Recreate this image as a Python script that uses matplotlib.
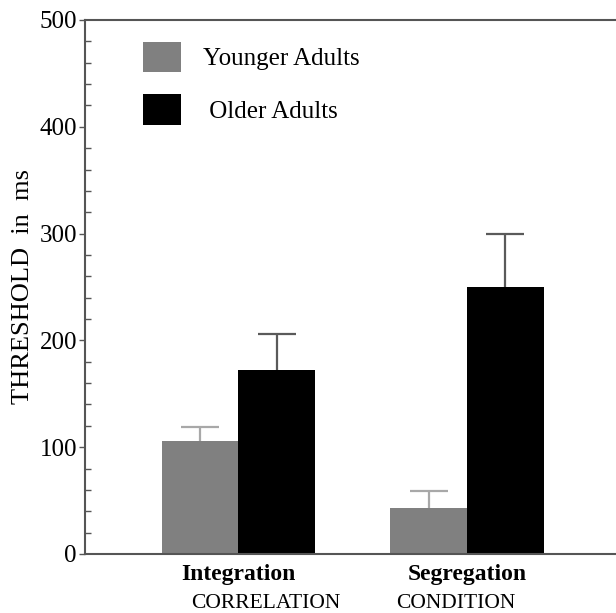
import matplotlib
matplotlib.use("Agg")
import matplotlib.pyplot as plt
import numpy as np
from matplotlib.patches import Patch
from matplotlib.ticker import MultipleLocator

plt.rcParams['font.family'] = ['Liberation Serif', 'DejaVu Serif']

conditions = ["Integration", "Segregation"]
groups = ["Younger Adults", "Older Adults"]
younger = [106, 43]
younger_err = [13, 16]
older = [172, 250]
older_err = [34, 50]
yticks = [0, 100, 200, 300, 400, 500]

fig = plt.figure(figsize=(6.16, 6.13), dpi=100)
ax = fig.add_axes([85.3 / 616, 59 / 613, (616 - 85.3) / 616, 534 / 613])

x = np.arange(len(conditions))
w = 0.335
ax.bar(x - w / 2, younger, width=w, color="#808080", zorder=2)
ax.bar(x + w / 2, older, width=w, color="#000000", zorder=2)
for vals, errs, pos, col in [(younger, younger_err, x - w / 2, "#a8a8a8"),
                             (older, older_err, x + w / 2, "#5a5a5a")]:
    _, caps, _ = ax.errorbar(pos, vals, yerr=[np.zeros(len(vals)), errs],
                             fmt="none", ecolor=col, elinewidth=1.6, capsize=13.7,
                             capthick=1.6, zorder=1)
    caps[0].set_visible(False)

ax.set_xlim(-0.669, 1.652)
ax.set_ylim(0, 500)
ax.set_yticks(yticks)
ax.set_yticklabels([str(t) for t in yticks], fontsize=18)
ax.yaxis.set_minor_locator(MultipleLocator(20))
ax.tick_params(axis="y", which="major", direction="out", length=4, width=1, color="#555555", pad=2)
ax.tick_params(axis="y", which="minor", direction="in", length=4, width=1, color="#555555")
ax.set_xticks(x)
ax.set_xticklabels(conditions, fontsize=17, fontweight="bold")
ax.tick_params(axis="x", length=0, pad=7)

for s in ["left", "top", "bottom"]:
    ax.spines[s].set_color("#555555")
    ax.spines[s].set_linewidth(1.5)
ax.spines["right"].set_visible(False)

ax.set_ylabel("THRESHOLD  in  ms", fontsize=19, labelpad=4)

handles = [Patch(facecolor="#808080", edgecolor="none"), Patch(facecolor="#000000", edgecolor="none")]
ax.legend(handles, ["Younger Adults", " Older Adults"], loc="upper left",
          bbox_to_anchor=(0.108, 0.959), frameon=False, fontsize=18,
          handlelength=1.53, handleheight=1.5, handletextpad=0.88,
          labelspacing=0.88, borderpad=0, borderaxespad=0)

fig.text(265.5 / 616, 1 - 604 / 613, "CORRELATION", fontsize=15.5, ha="center", va="center")
fig.text(456 / 616, 1 - 604 / 613, "CONDITION", fontsize=15.5, ha="center", va="center")

fig.savefig("out.png", dpi=100)
